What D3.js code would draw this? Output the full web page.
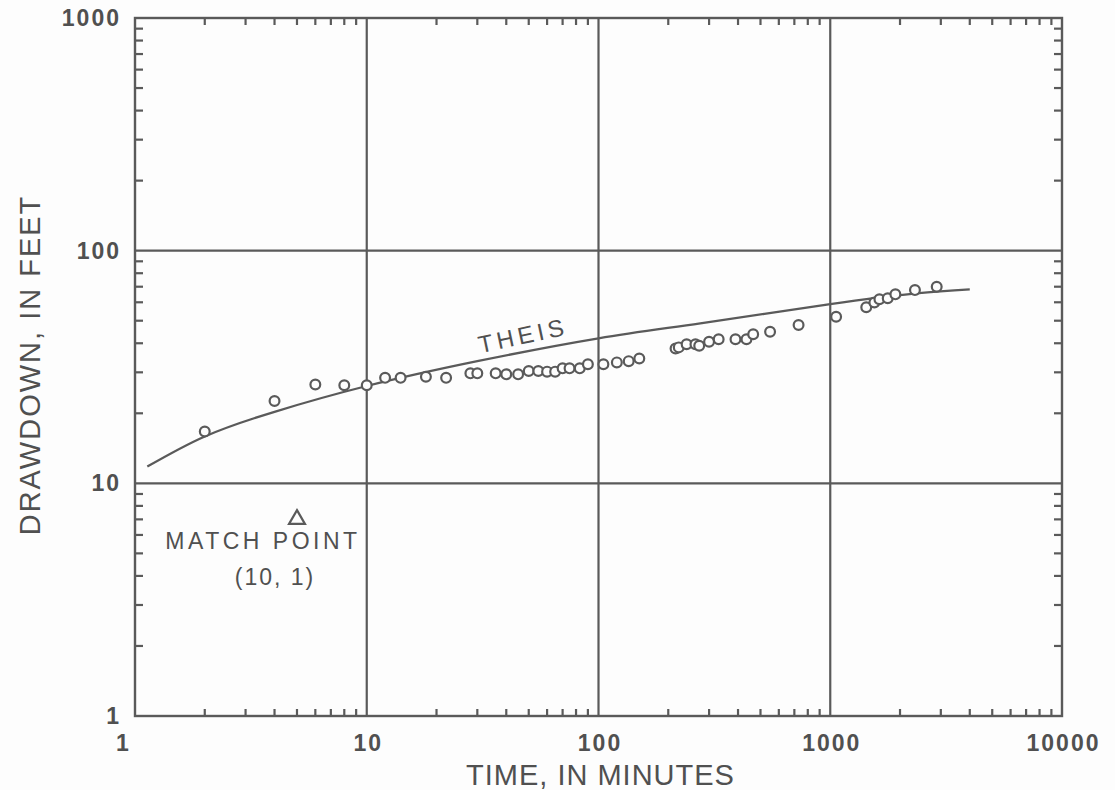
<!DOCTYPE html>
<html><head><meta charset="utf-8">
<script src="https://cdn.jsdelivr.net/npm/d3@7"></script>
<style>
html,body{margin:0;padding:0;background:#fdfdfd;}
svg{display:block;}
text{font-family:"Liberation Sans",Arial,sans-serif;fill:#505050;}
</style></head>
<body>
<svg id="chart" width="1115" height="790"></svg>
<script>
// observed drawdown data
const timeMin = [2,4,6,8,10,12,14,18,22,28,30,36,40,45,50,55,60,65,70,75,83,90,105,120,135,150,215,222,240,262,272,300,330,390,435,465,550,730,1060,1430,1550,1630,1770,1910,2320,2880];
const drawdownFt = [16.7,22.6,26.6,26.4,26.4,28.4,28.4,28.7,28.4,29.7,29.7,29.7,29.4,29.4,30.4,30.4,30.2,30.2,31.2,31.2,31.2,32.5,32.5,33.1,33.5,34.4,38.0,38.4,39.6,39.6,39.0,40.6,41.6,41.6,41.6,43.7,44.8,47.9,52.0,57.1,59.9,61.8,62.4,64.9,67.7,70.0];
// Theis type curve
const theisTime = [1.13,2,4,10,30,100,275,1000,2350,4000];
const theisDrawdown = [11.8,15.9,20.3,26.2,33.5,42.0,48.7,58.9,65.5,68.2];
// axes
const xTickValues = [1,10,100,1000,10000];
const yTickValues = [1,10,100,1000];
const xTitle = "TIME, IN MINUTES";
const yTitle = "DRAWDOWN, IN FEET";
const curveLabel = "THEIS";
const matchPoint = {t:5, s:7, label1:"MATCH POINT", label2:"(10, 1)"};

const C = "#5a5a5a";
const svg = d3.select("#chart");
const L=135, R=1062, T=18, B=716;
const x = d3.scaleLog().domain([1,10000]).range([L,R]);
const y = d3.scaleLog().domain([1,1000]).range([B,T]);

// minor ticks
const minor = [];
for (let d=1; d<10000; d*=10) for (let k=2;k<=9;k++) minor.push(d*k);
const minorY = minor.filter(v=>v<1000);
const g = svg.append("g").attr("stroke",C).attr("stroke-width",2.2);
g.selectAll(".mt").data(minor).join("line")
  .attr("x1",d=>x(d)).attr("x2",d=>x(d)).attr("y1",T).attr("y2",T+7);
g.selectAll(".mb").data(minor).join("line")
  .attr("x1",d=>x(d)).attr("x2",d=>x(d)).attr("y1",B).attr("y2",B-7);
g.selectAll(".ml").data(minorY).join("line")
  .attr("y1",d=>y(d)).attr("y2",d=>y(d)).attr("x1",L).attr("x2",L+8);
g.selectAll(".mr").data(minorY).join("line")
  .attr("y1",d=>y(d)).attr("y2",d=>y(d)).attr("x1",R).attr("x2",R-8);
// grid
g.selectAll(".gx").data([10,100,1000]).join("line")
  .attr("x1",d=>x(d)).attr("x2",d=>x(d)).attr("y1",T).attr("y2",B);
g.selectAll(".gy").data([10,100]).join("line")
  .attr("y1",d=>y(d)).attr("y2",d=>y(d)).attr("x1",L).attr("x2",R);
// frame
svg.append("rect").attr("x",L).attr("y",T).attr("width",R-L).attr("height",B-T)
  .attr("fill","none").attr("stroke",C).attr("stroke-width",2.4);

// axes labels via d3 axes
const xAxis = svg.append("g").attr("transform",`translate(0,${B})`)
  .call(d3.axisBottom(x).tickValues(xTickValues).tickFormat(d3.format("d")).tickSize(0).tickPadding(19));
const yAxis = svg.append("g").attr("transform",`translate(${L},0)`)
  .call(d3.axisLeft(y).tickValues(yTickValues).tickFormat(d3.format("d")).tickSize(0).tickPadding(14));
[xAxis,yAxis].forEach(a=>{
  a.select(".domain").remove();
  a.selectAll("text").attr("font-family","Liberation Sans, Arial, sans-serif")
    .attr("font-size",23).attr("font-weight","bold").attr("fill","#555").style("letter-spacing","2px");
});
xAxis.selectAll("text").attr("dx","1px");
xAxis.selectAll("text").filter(d=>d===1).attr("dx","-12px");

// Theis curve
const line = d3.line().x(d=>x(d[0])).y(d=>y(d[1])).curve(d3.curveNatural);
svg.append("path").datum(theisTime.map((t,i)=>[t,theisDrawdown[i]]))
  .attr("d",line).attr("fill","none").attr("stroke",C).attr("stroke-width",2.3);

// points
svg.append("g").selectAll("circle").data(timeMin.map((t,i)=>[t,drawdownFt[i]])).join("circle")
  .attr("cx",d=>x(d[0])).attr("cy",d=>y(d[1])).attr("r",4.9)
  .attr("fill","#fdfdfd").attr("stroke",C).attr("stroke-width",2.2);

// THEIS label
svg.append("text").attr("transform",`translate(${x(48)},${y(39.8)}) rotate(-12)`)
  .attr("text-anchor","middle").attr("font-size",24).style("letter-spacing","4px")
  .text(curveLabel);

// match point
svg.append("path").attr("d",d3.symbol(d3.symbolTriangle,110)())
  .attr("transform",`translate(${x(matchPoint.t)},${y(matchPoint.s)})`)
  .attr("fill","none").attr("stroke",C).attr("stroke-width",2.2);
svg.append("text").attr("x",x(matchPoint.t)-34).attr("y",549).attr("text-anchor","middle")
  .attr("font-size",23).style("letter-spacing","3.5px").text(matchPoint.label1);
svg.append("text").attr("x",x(matchPoint.t)-22).attr("y",585).attr("text-anchor","middle")
  .attr("font-size",23).style("letter-spacing","2px").text(matchPoint.label2);

// axis titles
svg.append("text").attr("x",(L+R)/2+2).attr("y",785).attr("text-anchor","middle")
  .attr("font-size",29).style("letter-spacing","1px").text(xTitle);
svg.append("text").attr("transform",`translate(40,${(T+B)/2-2}) rotate(-90)`)
  .attr("text-anchor","middle").attr("font-size",29).style("letter-spacing","2px").text(yTitle);
</script>
</body></html>
